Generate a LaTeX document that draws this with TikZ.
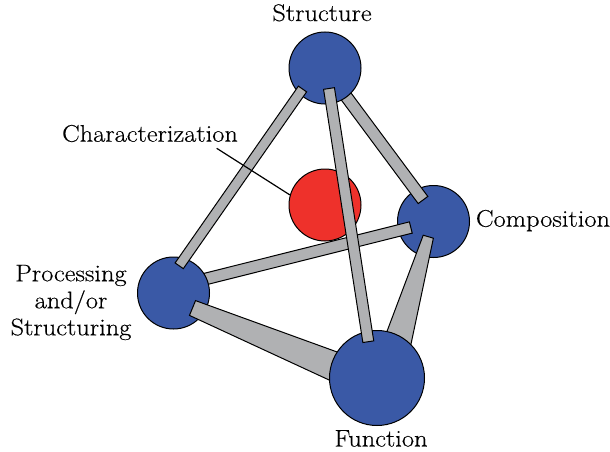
\documentclass[tikz,border=0pt]{standalone}
\usepackage{fontspec}
\setmainfont{Latin Modern Roman}[FakeStretch=1.1,FakeBold=0.4]
\usetikzlibrary{calc}
\definecolor{ballblue}{RGB}{58,89,166}
\definecolor{ballred}{RGB}{238,49,43}
\definecolor{rodgray}{RGB}{176,177,179}
\pgfdeclarelayer{lA}
\pgfdeclarelayer{lB}
\pgfdeclarelayer{lC}
\pgfdeclarelayer{lD}
\pgfdeclarelayer{lE}
\pgfsetlayers{lA,lB,lC,lD,lE,main}
\newcommand{\rodbar}[3]{%
  \filldraw[rod] ($(#1)!#3!90:(#2)$) -- ($(#2)!#3!-90:(#1)$) --
    ($(#2)!#3!90:(#1)$) -- ($(#1)!#3!-90:(#2)$) -- cycle;}
\newcommand{\taperbar}[4]{%
  \filldraw[rod] ($(#1)!#3!90:(#2)$) -- ($(#2)!#4!-90:(#1)$) --
    ($(#2)!#4!90:(#1)$) -- ($(#1)!#3!-90:(#2)$) -- cycle;}
\begin{document}
\begin{tikzpicture}[x=1pt,y=-1pt,
  ball/.style={circle,draw=black,line width=1pt,fill=ballblue,inner sep=0pt},
  redball/.style={circle,draw=black,line width=1pt,fill=ballred,inner sep=0pt,minimum size=72pt},
  rod/.style={draw=black,fill=rodgray,line width=1pt,line join=miter},
  lbl/.style={inner sep=0pt,font=\fontsize{24}{27}\selectfont}]
\useasboundingbox (0,0) rectangle (610,452);

% balls
\begin{pgfonlayer}{lA}
  \node[redball] (R) at (325,205) {};
  \node[ball,minimum size=72pt] (C) at (433.5,221.5) {};
\end{pgfonlayer}
\begin{pgfonlayer}{lC}
  \node[ball,minimum size=72pt] (S) at (325,68) {};
  \node[ball,minimum size=72pt] (P) at (173.5,293) {};
\end{pgfonlayer}
\begin{pgfonlayer}{lE}
  \node[ball,minimum size=95pt] (F) at (377,378) {};
\end{pgfonlayer}

% rod end points
\coordinate (sp1) at ($(S)+(-22.5,21)$);
\coordinate (sp2) at ($(P)+(5.7,-27.2)$);
\coordinate (sf1) at ($(S)+(4,20.5)$);
\coordinate (sf2) at ($(F)+(-8.7,-36.3)$);
\coordinate (sc1) at ($(S)+(0,0)$);
\coordinate (sc2) at ($(C)+(-10.5,-21.5)$);
\coordinate (pc1) at ($(P)+(0,-6)$);
\coordinate (pc2) at ($(C)+(-22.7,6)$);
\coordinate (pf1) at ($(P)+(19,15)$);
\coordinate (pf2) at ($(F)+(0,6)$);
\coordinate (cf1) at ($(C)+(-5.2,15.2)$);
\coordinate (cf2) at ($(F)+(10,0)$);

% rods behind S and P
\begin{pgfonlayer}{lB}
  \rodbar{sc1}{sc2}{6pt}
  \rodbar{pc1}{pc2}{5.8pt}
\end{pgfonlayer}
% rods over S and P, behind F
\begin{pgfonlayer}{lD}
  \rodbar{sp1}{sp2}{5pt}
  \taperbar{pf1}{pf2}{8pt}{16.5pt}
  \taperbar{cf1}{cf2}{5.3pt}{16.5pt}
\end{pgfonlayer}
% rod over everything
\rodbar{sf1}{sf2}{5.5pt}

% leader line
\coordinate (lead) at (216.7,148.3);
\draw[line width=1.2pt] (lead) -- (R.164);

% labels
\node[lbl,anchor=base] (tS) at (322,21) {Structure};
\node[lbl,anchor=base] (tR) at (150,141.7) {Characterization};
\node[lbl,anchor=base] (tC) at (543,226.7) {Composition};
\node[lbl,align=center] (tP) at (71,302.5) {Processing\\and/or\\Structuring};
\node[lbl,anchor=base] (tF) at (381,446.5) {Function};
\end{tikzpicture}
\end{document}
